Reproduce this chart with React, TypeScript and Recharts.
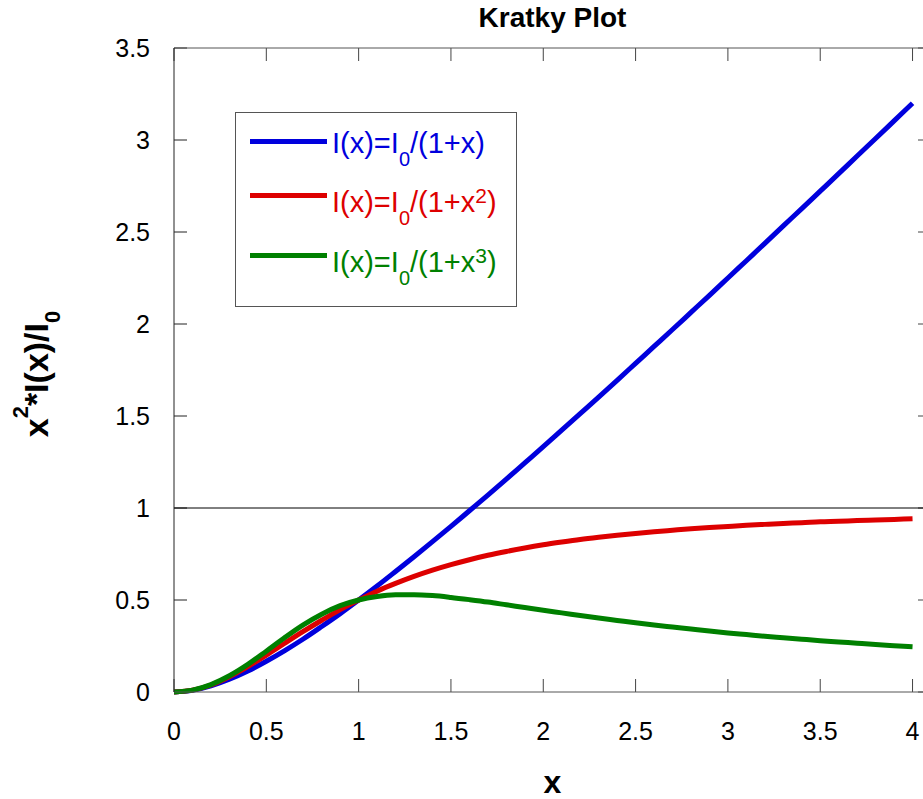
import { LineChart, Line, XAxis, YAxis, ReferenceLine, Legend, Label } from "recharts";

const FONT = "'Liberation Sans', Arial, Helvetica, sans-serif";
const BLUE = "#0000DD";
const RED = "#DD0000";
const GREEN = "#008000";

const CHART_W = 940;
const CHART_H = 799;
const MARGIN = { top: 47, right: 8, bottom: 0, left: 0 };
const LEFT_AXIS_W = 174;
const BOTTOM_AXIS_H = 107;
const X_MAX = 4.1;
const Y_MAX = 3.5;
const TICK_PX = 13;

// x sampled every 0.1 from 0 to 4
const xValues = [
  0, 0.1, 0.2, 0.3, 0.4, 0.5, 0.6, 0.7, 0.8, 0.9, 1, 1.1, 1.2, 1.3, 1.4, 1.5, 1.6, 1.7, 1.8, 1.9, 2,
  2.1, 2.2, 2.3, 2.4, 2.5, 2.6, 2.7, 2.8, 2.9, 3, 3.1, 3.2, 3.3, 3.4, 3.5, 3.6, 3.7, 3.8, 3.9, 4,
];
// I0/(1+x)
const linearCurve = [
  0, 0.009, 0.033, 0.069, 0.114, 0.167, 0.225, 0.288, 0.356, 0.426, 0.5, 0.576, 0.655, 0.735, 0.817,
  0.9, 0.985, 1.07, 1.157, 1.245, 1.333, 1.423, 1.513, 1.603, 1.694, 1.786, 1.878, 1.97, 2.063, 2.156,
  2.25, 2.344, 2.438, 2.533, 2.627, 2.722, 2.817, 2.913, 3.008, 3.104, 3.2,
];
// I0/(1+x^2)
const squareCurve = [
  0, 0.01, 0.038, 0.083, 0.138, 0.2, 0.265, 0.329, 0.39, 0.448, 0.5, 0.548, 0.59, 0.628, 0.662, 0.692,
  0.719, 0.743, 0.764, 0.783, 0.8, 0.815, 0.829, 0.841, 0.852, 0.862, 0.871, 0.879, 0.887, 0.894, 0.9,
  0.906, 0.911, 0.916, 0.92, 0.925, 0.928, 0.932, 0.935, 0.938, 0.941,
];
// I0/(1+x^3)
const cubeCurve = [
  0, 0.01, 0.04, 0.088, 0.15, 0.222, 0.296, 0.365, 0.423, 0.469, 0.5, 0.519, 0.528, 0.529, 0.524,
  0.514, 0.502, 0.489, 0.474, 0.459, 0.444, 0.43, 0.416, 0.402, 0.389, 0.376, 0.364, 0.353, 0.342,
  0.331, 0.321, 0.312, 0.303, 0.295, 0.287, 0.279, 0.272, 0.265, 0.258, 0.252, 0.246,
];

const xTicks = [0, 0.5, 1, 1.5, 2, 2.5, 3, 3.5, 4];
const yTicks = [0, 0.5, 1, 1.5, 2, 2.5, 3, 3.5];

const legendPowers = ["", "2", "3"];
const legendColors = [BLUE, RED, GREEN];

const data = xValues.map((x, i) => ({
  x,
  linear: linearCurve[i],
  square: squareCurve[i],
  cube: cubeCurve[i],
}));

// inward tick length expressed in data units
const plotW = CHART_W - MARGIN.left - MARGIN.right - LEFT_AXIS_W - 1;
const plotH = CHART_H - MARGIN.top - MARGIN.bottom - BOTTOM_AXIS_H - 1;
const TICK_DX = (TICK_PX * X_MAX) / plotW;
const TICK_DY = (TICK_PX * Y_MAX) / plotH;

const tickStyle = { fontSize: 25, fill: "#000", fontFamily: FONT };

const KratkyLegend = () => {
  const lineTops = [26, 80, 140];
  const textTops = [16, 75, 135];
  return (
    <div
      style={{
        position: "relative",
        width: 282,
        height: 195,
        boxSizing: "border-box",
        border: "1px solid #555",
        background: "#fff",
        fontFamily: FONT,
      }}
    >
      {legendPowers.map((p, i) => (
        <div key={i}>
          <div
            style={{
              position: "absolute",
              left: 14,
              top: lineTops[i],
              width: 77,
              height: 5,
              background: legendColors[i],
            }}
          />
          <div
            style={{
              position: "absolute",
              left: 96,
              top: textTops[i],
              fontSize: 29,
              lineHeight: "29px",
              color: legendColors[i],
              whiteSpace: "nowrap",
            }}
          >
            I(x)=I
            <span style={{ fontSize: 20, position: "relative", top: 13 }}>0</span>
            /(1+x
            {p && <span style={{ fontSize: 21, position: "relative", top: -9 }}>{p}</span>})
          </div>
        </div>
      ))}
    </div>
  );
};

const App = () => {
  const tickRef = { xAxisId: "bottom", yAxisId: "left", stroke: "#444", strokeWidth: 1, ifOverflow: "visible" as const };
  return (
    <div style={{ position: "absolute", left: 0, top: 0, width: 923, height: 799, overflow: "hidden", background: "#fff" }}>
      <LineChart width={CHART_W} height={CHART_H} data={data} margin={MARGIN}>
        <XAxis
          xAxisId="bottom"
          dataKey="x"
          type="number"
          domain={[0, X_MAX]}
          ticks={xTicks}
          interval={0}
          height={BOTTOM_AXIS_H}
          tickLine={false}
          tickMargin={24}
          stroke="#555"
          tick={tickStyle}
          allowDataOverflow
        >
          <Label
            content={(props: any) => {
              const vb = props.viewBox;
              return (
                <text x={vb.x + vb.width / 2} y={vb.y + 101} textAnchor="middle" fontFamily={FONT} fontWeight="bold" fontSize={32} fill="#000">
                  x
                </text>
              );
            }}
          />
        </XAxis>
        <XAxis
          xAxisId="top"
          dataKey="x"
          type="number"
          orientation="top"
          domain={[0, X_MAX]}
          height={1}
          tickLine={false}
          tick={false}
          stroke="#555"
          allowDataOverflow
        >
          <Label
            content={(props: any) => {
              const vb = props.viewBox;
              return (
                <text x={vb.x + vb.width / 2} y={27} textAnchor="middle" fontFamily={FONT} fontWeight="bold" fontSize={28} fill="#000">
                  Kratky Plot
                </text>
              );
            }}
          />
        </XAxis>
        <YAxis
          yAxisId="left"
          type="number"
          domain={[0, Y_MAX]}
          ticks={yTicks}
          interval={0}
          width={LEFT_AXIS_W}
          tickLine={false}
          tickMargin={18}
          stroke="#222"
          tick={tickStyle}
        >
          <Label
            content={(props: any) => {
              const vb = props.viewBox;
              const cx = 48;
              const cy = vb.y + vb.height / 2 + 4;
              return (
                <text
                  x={cx}
                  y={cy}
                  transform={`rotate(-90 ${cx} ${cy})`}
                  textAnchor="middle"
                  fontFamily={FONT}
                  fontWeight="bold"
                  fontSize={34}
                  fill="#000"
                >
                  x
                  <tspan dy={-20} fontSize={22}>2</tspan>
                  <tspan dy={20}>*I(x)/I</tspan>
                  <tspan dy={12} fontSize={22}>0</tspan>
                </text>
              );
            }}
          />
        </YAxis>
        <YAxis
          yAxisId="right"
          orientation="right"
          type="number"
          domain={[0, Y_MAX]}
          width={1}
          tickLine={false}
          tick={false}
          stroke="#555"
        />
        {xTicks.map((t) => (
          <ReferenceLine key={`b${t}`} {...tickRef} segment={[{ x: t, y: 0 }, { x: t, y: TICK_DY }]} />
        ))}
        {xTicks.map((t) => (
          <ReferenceLine key={`t${t}`} {...tickRef} segment={[{ x: t, y: Y_MAX - TICK_DY }, { x: t, y: Y_MAX }]} />
        ))}
        {yTicks.map((t) => (
          <ReferenceLine key={`l${t}`} {...tickRef} stroke="#222" segment={[{ x: 0, y: t }, { x: TICK_DX, y: t }]} />
        ))}
        {yTicks.map((t) => (
          <ReferenceLine key={`r${t}`} {...tickRef} segment={[{ x: X_MAX - TICK_DX, y: t }, { x: X_MAX, y: t }]} />
        ))}
        <ReferenceLine xAxisId="bottom" yAxisId="left" y={1} stroke="#000" strokeWidth={1} />
        <Line xAxisId="bottom" yAxisId="left" type="monotone" dataKey="linear" stroke={BLUE} strokeWidth={5} dot={false} isAnimationActive={false} />
        <Line xAxisId="bottom" yAxisId="left" type="monotone" dataKey="square" stroke={RED} strokeWidth={5} dot={false} isAnimationActive={false} />
        <Line xAxisId="bottom" yAxisId="left" type="monotone" dataKey="cube" stroke={GREEN} strokeWidth={5} dot={false} isAnimationActive={false} />
        <Legend
          layout="vertical"
          align="center"
          verticalAlign="middle"
          content={() => <KratkyLegend />}
          wrapperStyle={{ left: 235, top: 112, width: 282, height: 195 }}
        />
      </LineChart>
    </div>
  );
};

export default App;
